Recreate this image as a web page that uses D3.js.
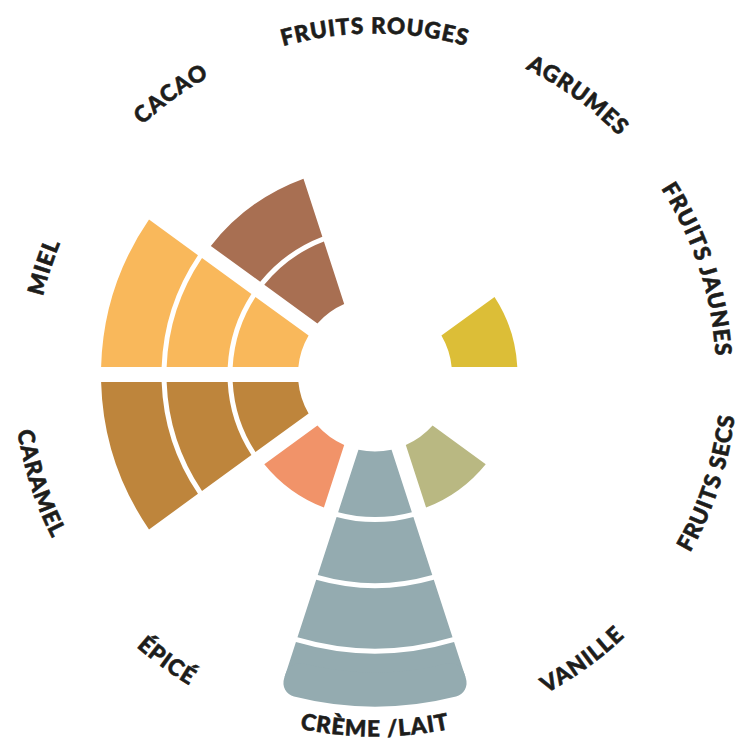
<!DOCTYPE html>
<html>
<head>
  <meta charset="utf-8">
  <style>
    body, html {
      margin: 0;
      padding: 0;
      background: white;
      overflow: hidden;
    }
    .label {
      font-family: 'Lato', 'DejaVu Sans', sans-serif;
      font-weight: 900;
      font-size: 22.5px;
      fill: #1d1d1b;
      stroke: #1d1d1b;
      stroke-width: 0.6px;
    }
  </style>
</head>
<body>
  <svg id="chart" width="750" height="750"></svg>

  <script src="https://cdnjs.cloudflare.com/ajax/libs/d3/7.8.5/d3.min.js"></script>
  <script>
    // aromas, clockwise from the top
    const categories = ["FRUITS ROUGES", "AGRUMES", "FRUITS JAUNES", "FRUITS SECS", "VANILLE",
      "CRÈME /LAIT", "ÉPICÉ", "CARAMEL", "MIEL", "CACAO"];
    // intensity 0..4
    const values = [0, 0, 1, 0, 1, 4, 1, 3, 3, 2];
    const colors = ["#c8524e", "#f2a33a", "#dcbe37", "#9c7a55", "#b9b882",
      "#94abb0", "#f19369", "#be853c", "#f9b85b", "#a86f52"];
    const levels = [1, 2, 3, 4];

    const cx = 375;
    const cy = 374.5;
    const ringGap = 2.5;

    const svg = d3.select('#chart');
    const g = svg.append('g').attr('transform', `translate(${cx},${cy})`);

    const angle = d3.scaleBand()
      .domain(categories)
      .range([-Math.PI / 10, 2 * Math.PI - Math.PI / 10]);

    // ring boundaries are not evenly spaced in the original
    const radius = d3.scaleLinear()
      .domain([0, 1, 2, 3, 4])
      .range([77, 145, 211, 276.5, 334.5]);

    const arc = d3.arc()
      .padAngle(0.15)
      .padRadius(100);

    // one cell per filled level of each category
    let cells = [];
    categories.forEach((c, i) => {
      levels.filter(l => l <= values[i]).forEach(l => {
        cells.push({
          cat: c,
          level: l,
          color: colors[i],
          startAngle: angle(c),
          endAngle: angle(c) + angle.bandwidth(),
          innerRadius: l == 1 ? radius(0) : radius(l - 1) + ringGap,
          outerRadius: radius(l) - ringGap
        });
      });
    });

    const maxLevel = d3.max(levels);

    g.selectAll('.cell')
      .data(cells)
      .join('path')
      .attr('class', 'cell')
      .attr('fill', d => d.color)
      .attr('d', d => {
        if (d.level < maxLevel) return arc(d);
        // outermost cell: sharp inner corners, rounded outer ones
        return arc(Object.assign({}, d, { outerRadius: d.outerRadius - 16 }));
      });

    // rounded cap for the outermost cells
    g.selectAll('.cap')
      .data(cells.filter(d => d.level == maxLevel))
      .join('path')
      .attr('class', 'cap')
      .attr('fill', d => d.color)
      .attr('d', d => arc.cornerRadius(14)(Object.assign({}, d, { innerRadius: d.outerRadius - 34 })));
    arc.cornerRadius(0);

    // labels on a circle, upright in the lower half
    function pt(r, a) {
      return [r * Math.sin(a), -r * Math.cos(a)];
    }

    const labelData = categories.map((c, i) => {
      const a = angle(c) + angle.bandwidth() / 2;
      const deg = a * 180 / Math.PI;
      const bottom = deg > 90 && deg < 270;
      return { name: c, a: a, bottom: bottom, id: 'lbl' + i };
    });

    const defs = svg.append('defs');
    defs.selectAll('path')
      .data(labelData)
      .join('path')
      .attr('id', d => d.id)
      .attr('d', d => {
        const span = 0.6;
        if (!d.bottom) {
          const r = 349 - 8;
          const p0 = pt(r, d.a - span), p1 = pt(r, d.a + span);
          return `M ${p0[0]} ${p0[1]} A ${r} ${r} 0 0 1 ${p1[0]} ${p1[1]}`;
        }
        const r = 354 + 8;
        const p0 = pt(r, d.a + span), p1 = pt(r, d.a - span);
        return `M ${p0[0]} ${p0[1]} A ${r} ${r} 0 0 0 ${p1[0]} ${p1[1]}`;
      });

    g.selectAll('.label')
      .data(labelData)
      .join('text')
      .attr('class', 'label')
      .attr('letter-spacing', 1)
      .append('textPath')
      .attr('href', d => '#' + d.id)
      .attr('startOffset', '50%')
      .attr('text-anchor', 'middle')
      .text(d => d.name);
  </script>
</body>
</html>
